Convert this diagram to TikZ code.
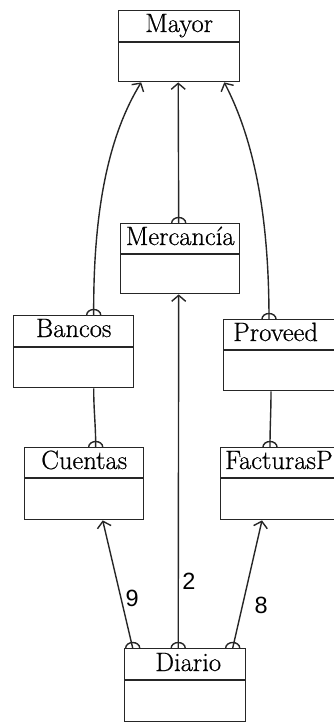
\documentclass[tikz,border=0pt]{standalone}
\usepackage{fontspec}
\newfontfamily\lblfont{Liberation Sans}
\newfontfamily\clsfont{Latin Modern Roman}[UprightFeatures={FakeBold=0.6}]
\usetikzlibrary{arrows.meta}

\tikzset{
  line/.style={line width=1.4pt, draw=black!85},
  classbox/.style={line, rectangle, inner sep=0pt, anchor=north west},
  classname/.style={font=\clsfont\fontsize{26.5}{30}\selectfont, inner sep=0pt},
  assoc/.style={line, -{Straight Barb[length=6pt,width=14pt]}},
  plain/.style={line},
  num/.style={font=\lblfont\fontsize{23.5}{26}\selectfont, inner sep=0pt, anchor=west},
}

% half-dome marker sitting on a box edge at the given point
\newcommand\dome[1]{\draw[line] ([xshift=-7pt]#1) arc[start angle=180,end angle=0,x radius=7pt,y radius=5.5pt];}

\begin{document}
\begin{tikzpicture}[x=1pt,y=-1pt]
\useasboundingbox (0,0) rectangle (334,723);
\clip (0,0) rectangle (334,723);

% class boxes
\node[classbox, minimum width=121pt, minimum height=71pt] (mayor)    at (118,10)  {};
\node[classbox, minimum width=119pt, minimum height=70pt] (merc)     at (120,223) {};
\node[classbox, minimum width=120pt, minimum height=72pt] (bancos)   at (13,315)  {};
\node[classbox, minimum width=130pt, minimum height=71pt] (proveed)  at (223,319) {};
\node[classbox, minimum width=119pt, minimum height=72pt] (cuentas)  at (24,447)  {};
\node[classbox, minimum width=130pt, minimum height=72pt] (facturas) at (220,447) {};
\node[classbox, minimum width=121pt, minimum height=73pt] (diario)   at (124,648) {};

% compartment separators
\foreach \b/\d in {mayor/32, merc/31, bancos/32, proveed/31, cuentas/31, facturas/31, diario/32}
  \draw[line] ([yshift=-\d pt]\b.north west) -- ([yshift=-\d pt]\b.north east);

% class names
\node[classname, anchor=base] at ([yshift=-22pt]mayor.north)   {Mayor};
\node[classname, anchor=base] at ([yshift=-22pt]merc.north)    {Mercancía};
\node[classname, anchor=base] at ([yshift=-22pt]bancos.north)  {Bancos};
\node[classname, anchor=base west] at ([xshift=10pt,yshift=-22pt]proveed.north west) {Proveed};
\node[classname, anchor=base] at ([yshift=-22pt]cuentas.north) {Cuentas};
\node[classname, anchor=base west] at ([xshift=5pt,yshift=-22pt]facturas.north west) {FacturasP};
\node[classname, anchor=base] at ([xshift=3pt,yshift=-23pt]diario.north)  {Diario};

% connection points
\coordinate (mayL) at ([xshift=-38pt]mayor.south);
\coordinate (mayC) at ([xshift=-1pt]mayor.south);
\coordinate (mayR) at ([xshift=45pt]mayor.south);
\coordinate (merT) at ([xshift=-1.5pt]merc.north);
\coordinate (merB) at ([xshift=-1.5pt]merc.south);
\coordinate (banT) at ([xshift=20pt]bancos.north);
\coordinate (banB) at ([xshift=20pt]bancos.south);
\coordinate (proT) at ([xshift=46pt]proveed.north west);
\coordinate (proB) at ([xshift=48pt]proveed.south west);
\coordinate (cueT) at ([xshift=11.5pt]cuentas.north);
\coordinate (cueB) at ([xshift=18.5pt]cuentas.south);
\coordinate (facT) at ([xshift=50pt]facturas.north west);
\coordinate (facB) at ([xshift=42pt]facturas.south west);
\coordinate (diaL) at ([xshift=-52.5pt]diario.north);
\coordinate (diaC) at ([xshift=-7pt]diario.north);
\coordinate (diaR) at ([xshift=47.5pt]diario.north);

% associations into Mayor
\draw[assoc] (banT) .. controls (93,200) and (112,130) .. (mayL);
\draw[assoc] (merT) -- (mayC);
\draw[assoc] (proT) .. controls (269,200) and (249,130) .. (mayR);

% compositions down the sides
\draw[plain] (banB) to[out=-90,in=90] (cueT);
\draw[plain] (proB) to[out=-90,in=90] (facT);

% associations from Diario
\draw[assoc] (diaL) -- node[num, pos=0.39, xshift=4pt] {9} (cueB);
\draw[assoc] (diaC) -- node[num, pos=0.19, xshift=3.5pt] {2} (merB);
\draw[assoc] (diaR) -- node[num, pos=0.33, xshift=11.5pt] {8} (facB);

% dome markers at the source ends
\dome{banT}
\dome{merT}
\dome{proT}
\dome{cueT}
\dome{facT}
\dome{diaL}
\dome{diaC}
\dome{diaR}
\end{tikzpicture}
\end{document}
